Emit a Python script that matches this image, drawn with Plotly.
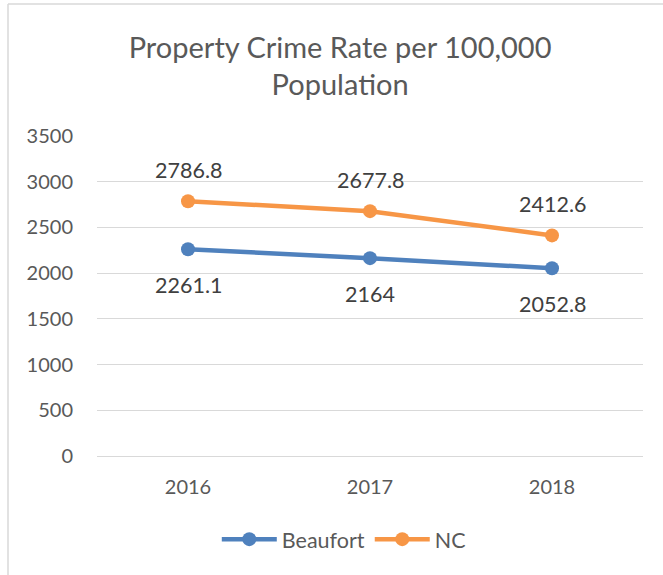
import plotly.graph_objects as go

years = ["2016", "2017", "2018"]
beaufort = [2261.1, 2164, 2052.8]
nc = [2786.8, 2677.8, 2412.6]
beaufort_labels = ["2261.1", "2164", "2052.8"]
nc_labels = ["2786.8", "2677.8", "2412.6"]
y_ticks = [0, 500, 1000, 1500, 2000, 2500, 3000, 3500]

BLUE = "#4F81BD"
ORANGE = "#F79646"
FONT = "Lato"

fig = go.Figure()
fig.add_trace(go.Scatter(x=years, y=beaufort, name="Beaufort", mode="lines+markers",
                         line=dict(color=BLUE, width=4.5), marker=dict(size=14, color=BLUE)))
fig.add_trace(go.Scatter(x=years, y=nc, name="NC", mode="lines+markers",
                         line=dict(color=ORANGE, width=4.5), marker=dict(size=14, color=ORANGE)))

# data labels (category axis: annotation x is the category index)
for i, (y, t) in enumerate(zip(nc, nc_labels)):
    fig.add_annotation(x=i, y=y, xref="x", yref="y", text=t, showarrow=False, yshift=31,
                       font=dict(family=FONT, size=21.5, color="#404040"))
for i, (y, t) in enumerate(zip(beaufort, beaufort_labels)):
    fig.add_annotation(x=i, y=y, xref="x", yref="y", text=t, showarrow=False, yshift=-36,
                       font=dict(family=FONT, size=21.5, color="#404040"))

# chart border (left and top visible)
fig.add_shape(type="line", xref="paper", yref="paper", x0=-0.163, x1=-0.163, y0=-0.5, y1=1.4125,
              line=dict(color="#d9d9d9", width=1.5))
fig.add_shape(type="line", xref="paper", yref="paper", x0=-0.163, x1=1.2, y0=1.4125, y1=1.4125,
              line=dict(color="#d9d9d9", width=1.5))

fig.update_layout(
    width=663, height=575,
    margin=dict(l=97, r=20, t=136, b=119),
    paper_bgcolor="white", plot_bgcolor="white",
    font=dict(family=FONT, color="#595959"),
    title=dict(text="Property Crime Rate per 100,000<br>Population", x=0.513, xanchor="center",
               y=0.90, yanchor="middle",
               font=dict(family=FONT, size=29, color="#595959")),
    showlegend=True,
    legend=dict(orientation="h", x=0.452, xanchor="center", y=-0.26, yanchor="middle",
                font=dict(family=FONT, size=21.5, color="#595959"), itemwidth=55),
    xaxis=dict(type="category", range=[-0.5, 2.5], showgrid=False, showline=False, ticks="",
               tickfont=dict(family=FONT, size=20, color="#595959"), ticklabelstandoff=17),
    yaxis=dict(range=[0, 3500], tickvals=y_ticks, showgrid=True, gridcolor="#d9d9d9", gridwidth=1.2,
               zeroline=True, zerolinecolor="#d9d9d9", zerolinewidth=1.2, showline=False,
               tickfont=dict(family=FONT, size=20, color="#595959"), ticklabelstandoff=23),
)

fig.write_html("out.html", post_script="document.body.style.margin='0';",
               config={"displayModeBar": False})
